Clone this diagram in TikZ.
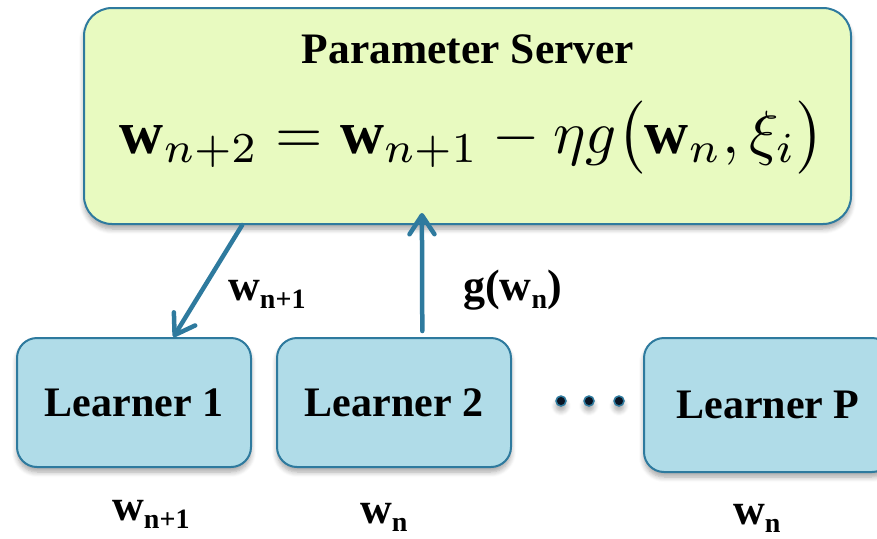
\documentclass[tikz,border=0pt]{standalone}
\usepackage{fontspec}
\setmainfont{Liberation Serif}
\usepackage{amsmath}
\usetikzlibrary{arrows.meta,shadows.blur,calc}

\definecolor{edgeblue}{RGB}{46,122,158}
\definecolor{servergreen}{RGB}{232,250,192}
\definecolor{learnerblue}{RGB}{176,220,232}
\definecolor{dotnavy}{RGB}{10,20,35}

% bold label with a lowered subscript
\newcommand{\lblsub}[2]{#1\raisebox{-8pt}{\fontsize{28}{28}\selectfont #2}}

\tikzset{
  softshadow/.style={blur shadow={shadow xshift=0pt, shadow yshift=-5pt,
      shadow blur steps=6, shadow blur radius=5pt, shadow opacity=35}},
  serverbox/.style={draw=edgeblue, line width=2pt, fill=servergreen,
      rounded corners=28pt, softshadow, inner sep=0pt},
  learnerbox/.style={draw=edgeblue, line width=2pt, fill=learnerblue,
      rounded corners=20pt, softshadow, inner sep=0pt,
      minimum width=234pt, minimum height=129pt,
      font=\fontsize{42}{44}\selectfont\bfseries},
  titletext/.style={font=\fontsize{43.5}{46}\selectfont\bfseries, inner sep=0pt, anchor=base},
  lbltext/.style={font=\fontsize{44}{46}\selectfont\bfseries, inner sep=0pt, anchor=base west},
  link/.style={draw=edgeblue, line width=4.5pt, line cap=round,
      -{Straight Barb[length=19pt, width=25pt, line width=4.5pt, line cap=round, line join=round]}},
  dotmark/.style={circle, fill=dotnavy, draw=edgeblue, line width=1.5pt,
      minimum size=10pt, inner sep=0pt, softshadow},
}

\begin{document}
\begin{tikzpicture}[x=1pt, y=-1pt]
  \useasboundingbox (0,0) rectangle (877,538);
  \clip (0,0) rectangle (877,538);

  % parameter server
  \node[serverbox, minimum width=767pt, minimum height=216pt] (srv) at (467.5,116) {};
  \node[titletext] (srvtitle) at (468,63) {Parameter Server};
  \node[inner sep=0pt, anchor=base] (update) at (472,153)
    {\resizebox{704pt}{!}{$\mathbf{w}_{n+2}=\mathbf{w}_{n+1}-\eta g\bigl(\mathbf{w}_n,\xi_i\bigr)$}};

  % learners
  \node[learnerbox] (l1) at (134,402.5) {Learner 1};
  \node[learnerbox] (l2) at (394,402.5) {Learner 2};
  \node[learnerbox, minimum width=248pt, minimum height=134pt] (lp) at (768,405) {Learner P};

  % ellipsis between learners
  \node[dotmark] (d1) at (561,401) {};
  \node[dotmark] (d2) at (589,401) {};
  \node[dotmark] (d3) at (619,401) {};

  % push of new weights and pull of gradients
  \draw[link] ($(srv.south west)!0.207!(srv.south east)$)
           -- ($(l1.north west)!0.667!(l1.north east)$);
  \draw[link, shorten <=6pt] ($(l2.north west)!0.62!(l2.north east)$)
           -- ([yshift=12pt]$(srv.south west)!0.4407!(srv.south east)$);

  % arrow labels
  \node[lbltext] (lblw) at (228,300) {\lblsub{w}{n+1}};
  \node[lbltext] (lblg) at (463,300) {g(\lblsub{w}{n})};

  % local weights under each learner
  \node[lbltext] (w1) at (112,520) {\lblsub{w}{n+1}};
  \node[lbltext] (w2) at (360,523) {\lblsub{w}{n}};
  \node[lbltext] (wp) at (733,524) {\lblsub{w}{n}};
\end{tikzpicture}
\end{document}
